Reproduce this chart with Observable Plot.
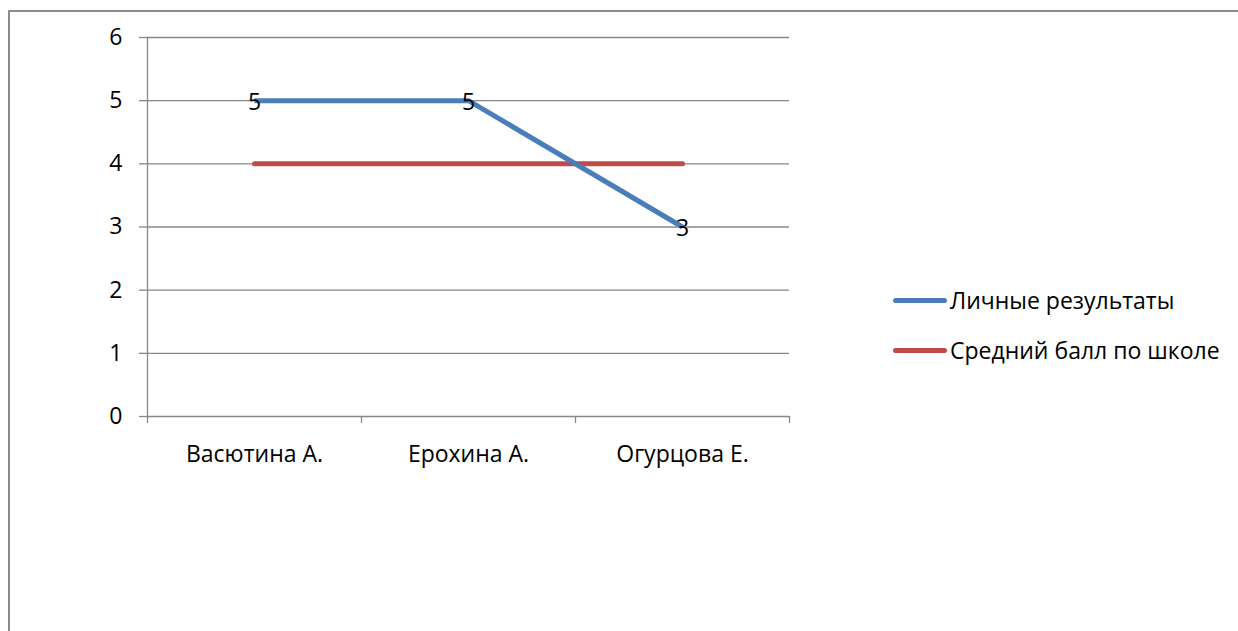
<!DOCTYPE html>
<html>
<head>
<meta charset="utf-8">
<script src="https://cdn.jsdelivr.net/npm/d3@7"></script>
<script src="https://cdn.jsdelivr.net/npm/@observablehq/plot@0.6"></script>
<style>
  html, body { margin: 0; padding: 0; background: #fff; }
  #wrap { position: relative; width: 1238px; height: 631px; overflow: hidden; font-family: "Open Sans", sans-serif; }
  #frame { position: absolute; left: 8px; top: 10px; width: 1300px; height: 700px; border-left: 2px solid #8c8c8c; border-top: 2px solid #8c8c8c; }
  #chart { position: absolute; left: 0; top: 0; }
  #chart svg text { font-size: 23px; }
  .leg { position: absolute; left: 893px; display: flex; align-items: center; font-size: 23px; color: #000; }
  .leg .sw { width: 54px; height: 5px; border-radius: 3px; margin-right: 3px; }
</style>
</head>
<body>
<div id="wrap">
  <div id="frame"></div>
  <div id="chart"></div>
  <div id="legend"></div>
</div>
<script>
const categories = ["Васютина А.", "Ерохина А.", "Огурцова Е."];
const personal = [5, 5, 3];
const schoolAvg = [4, 4, 4];
const seriesNames = ["Личные результаты", "Средний балл по школе"];
const seriesColors = ["#4A7EBB", "#BE4B48"];
const yTicks = [0, 1, 2, 3, 4, 5, 6];

// x positions: category i at i + 0.5, boundaries at integers
const catPos = categories.map((c, i) => i + 0.5);
const boundaries = d3.range(categories.length + 1);

const personalData = categories.map((c, i) => ({x: catPos[i], y: personal[i]}));
const avgData = categories.map((c, i) => ({x: catPos[i], y: schoolAvg[i]}));

const gridColor = "#878787";

const plot = Plot.plot({
  width: 1238,
  height: 631,
  marginLeft: 147,
  marginRight: 449,
  marginTop: 37,
  marginBottom: 215,
  style: {fontFamily: "'Open Sans', sans-serif", fontSize: "23px", color: "#000", background: "transparent"},
  x: {domain: [0, categories.length]},
  y: {domain: [0, 6]},
  marks: [
    Plot.ruleY(yTicks, {stroke: gridColor, strokeWidth: 1.3}),
    Plot.ruleX([0], {stroke: gridColor, strokeWidth: 1.3}),
    Plot.axisY({ticks: yTicks, tickSize: 8, tickPadding: 17, stroke: gridColor, strokeOpacity: 1, strokeWidth: 1.3, fontSize: 23, tickFormat: d => String(d), label: null}),
    Plot.axisX({ticks: boundaries, tickSize: 7, tickFormat: () => "", stroke: gridColor, strokeOpacity: 1, strokeWidth: 1.3, label: null}),
    Plot.axisX({ticks: catPos, tickSize: 0, tickPadding: 29, tickFormat: d => categories[Math.floor(d)], fontSize: 23, label: null}),
    Plot.line(avgData, {x: "x", y: "y", stroke: seriesColors[1], strokeWidth: 5, strokeLinecap: "round"}),
    Plot.line(personalData, {x: "x", y: "y", stroke: seriesColors[0], strokeWidth: 5, strokeLinecap: "butt"}),
    Plot.text(personalData, {x: "x", y: "y", text: d => String(d.y), fill: "#000", fontSize: 23, dy: 2})
  ]
});
document.getElementById("chart").appendChild(plot);

const legend = document.getElementById("legend");
const legTops = [284, 334];
seriesNames.forEach((name, i) => {
  const row = document.createElement("div");
  row.className = "leg";
  row.style.top = legTops[i] + "px";
  const sw = document.createElement("div");
  sw.className = "sw";
  sw.style.background = seriesColors[i];
  const t = document.createElement("span");
  t.textContent = name;
  row.appendChild(sw);
  row.appendChild(t);
  legend.appendChild(row);
});
</script>
</body>
</html>
